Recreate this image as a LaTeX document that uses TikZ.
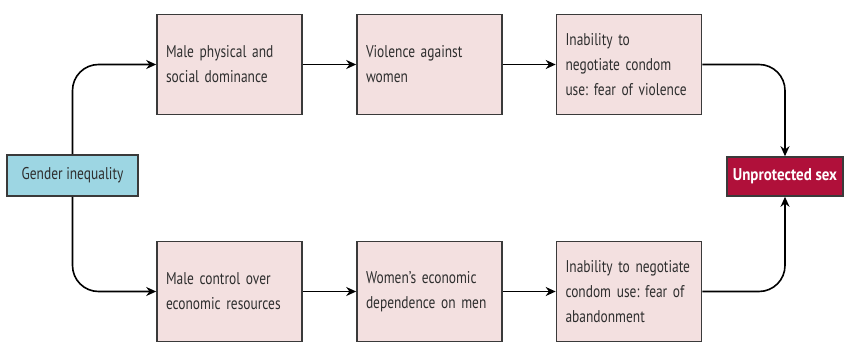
\documentclass[tikz,border=0pt]{standalone}
\usepackage{fontspec}
\setmainfont{PT Sans}[FakeStretch=0.79]
\newfontfamily\endfont{PT Sans}[FakeStretch=0.88]
\usepackage{tikz}
\usetikzlibrary{arrows.meta}
\definecolor{boxpink}{HTML}{F3E0E0}
\definecolor{boxblue}{HTML}{9DD6E3}
\definecolor{boxred}{HTML}{B0103A}
\definecolor{edgegray}{HTML}{3A3A3A}
\definecolor{textgray}{HTML}{2E2E2E}
\frenchspacing

\tikzset{
  stagebox/.style={draw=edgegray,line width=1.6pt,fill=boxpink,text=textgray,
    minimum width=145pt,minimum height=100pt,text width=127pt,align=left,
    inner xsep=9pt,font=\fontsize{17}{25}\selectfont},
  flow/.style={->,line width=1.6pt,draw=black,rounded corners=26pt}
}

\begin{document}
\begin{tikzpicture}[x=1pt,y=1pt,>={Stealth[length=10pt,width=9pt]}]
\useasboundingbox (0,0) rectangle (845,343);
% start and end
\node (gender) [draw=edgegray,line width=1.6pt,fill=boxblue,text=textgray,
  minimum width=131pt,minimum height=41pt,font=\fontsize{17}{18}\selectfont]
  at (72.5,167.5) {Gender inequality};
\node (unsafe) [draw=edgegray,line width=1.6pt,fill=boxred,text=white,
  minimum width=116pt,minimum height=39pt,font=\endfont\fontsize{17}{18}\selectfont\bfseries]
  at (785,166.5) {Unprotected sex};
% upper chain
\node (dom) [stagebox] at (229.5,278.5) {Male physical and\\social dominance};
\node (viol) [stagebox] at (429.5,278.5) {Violence against\\women};
\node (fearv) [stagebox] at (629,278.5)
  {Inability to\\negotiate condom\\use: fear of violence};
% lower chain
\node (ctrl) [stagebox] at (229.5,51.5) {Male control over\\economic resources};
\node (dep) [stagebox] at (429.5,51.5) {Women’s economic\\dependence on men};
\node (feara) [stagebox] at (629,51.5)
  {Inability to negotiate\\condom use: fear of\\abandonment};
% connectors
\draw[flow] (gender.north) |- (dom.west);
\draw[flow] (gender.south) |- (ctrl.west);
\draw[flow] (dom) -- (viol);
\draw[flow] (viol) -- (fearv);
\draw[flow] (ctrl) -- (dep);
\draw[flow] (dep) -- (feara);
\draw[flow] (fearv.east) -| (unsafe.north);
\draw[flow] (feara.east) -| (unsafe.south);
\end{tikzpicture}
\end{document}
